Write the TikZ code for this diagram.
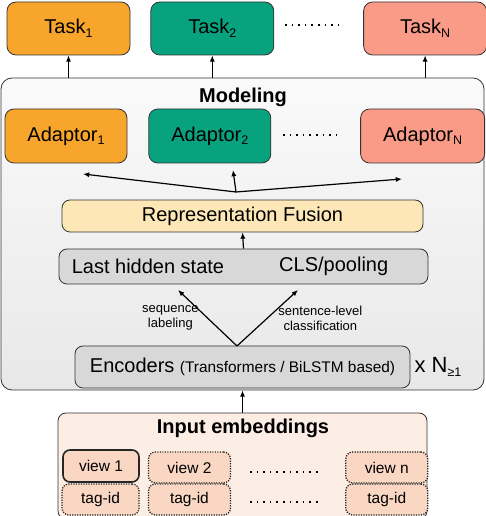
\documentclass[tikz,border=0pt]{standalone}
\usepackage{fontspec}
\setmainfont{Liberation Sans}
\usetikzlibrary{positioning,arrows.meta,shapes}
\definecolor{taskorange}{HTML}{F8A62B}
\definecolor{taskgreen}{HTML}{08A27F}
\definecolor{tasksalmon}{HTML}{F99B87}
\definecolor{fusionfill}{HTML}{FDE7B7}
\definecolor{hiddengray}{HTML}{D8D8D8}
\definecolor{inputfill}{HTML}{FDEEE5}
\definecolor{viewfill}{HTML}{F9D7C3}
\newcommand{\bigtxt}{\fontsize{20}{22}\selectfont}
\newcommand{\lowidx}[1]{\raisebox{-0.35ex}{\fontsize{12.5}{13}\selectfont #1}}

\begin{document}
\begin{tikzpicture}[
    x=1pt, y=1pt,
    >={Latex[black, length=2.2mm, width=1.8mm]},
    boxline/.style={draw=black!80, line width=0.8pt, inner sep=0pt},
    taskbox/.style={
        boxline, rectangle, rounded corners=9pt, minimum width=123pt, minimum height=53pt, font=\bigtxt
      },
    adaptorbox/.style={taskbox, minimum width=122pt, minimum height=54pt},
    layerbox/.style={boxline, rectangle, rounded corners=8pt, font=\bigtxt},
    viewbox/.style={
        rectangle, rounded corners=7pt, fill=viewfill, draw=black!85, line width=1.3pt,
        dash pattern=on 1.2pt off 1.3pt, minimum width=82pt, minimum height=31pt, inner sep=0pt,
        font=\fontsize{15.5}{16}\selectfont
      },
    dotline/.style={line width=1.6pt, dash pattern=on 1.6pt off 5pt},
    flow/.style={->, line width=1.2pt},
  ]
  \useasboundingbox (0,0) rectangle (486,516);

  % tasks
  \node[taskbox, fill=taskorange](Task1) at (68.5,487.5) {Task\lowidx{1}};
  \node[taskbox, fill=taskgreen, right=20pt of Task1](Task2) {Task\lowidx{2}};
  \node[taskbox, fill=tasksalmon, right=89pt of Task2](TaskN) {Task\lowidx{N}};
  \draw[dotline] (285,491) -- (340,491);

  % modeling block
  \node[layerbox, rounded corners=11pt, top color=black!2, bottom color=black!9,
    minimum width=483pt, minimum height=312pt](modelbox) at (242.5,282) {};
  \node[font=\fontsize{20}{22}\selectfont\bfseries](modeltitle) at (243,419) {Modeling};

  \node[adaptorbox, fill=taskorange](Adaptor1) at (66,380) {Adaptor\lowidx{1}};
  \node[adaptorbox, fill=taskgreen, right=21pt of Adaptor1](Adaptor2) {Adaptor\lowidx{2}};
  \node[adaptorbox, fill=tasksalmon, minimum width=124pt, right=89pt of Adaptor2](AdaptorN) {Adaptor\lowidx{N}};
  \draw[dotline] (283,381) -- (338,381);

  \node[layerbox, fill=fusionfill, minimum width=361pt, minimum height=32pt](fusion) at (242.5,300) {Representation Fusion};
  \node[layerbox, fill=hiddengray, minimum width=369pt, minimum height=35pt](hidden) at (243.5,249.5) {};
  \node[font=\bigtxt, inner sep=0pt, right=13pt of hidden.west](lasthidden) {Last hidden state};
  \node[font=\bigtxt, inner sep=0pt, left=40pt of hidden.east](clspool) {CLS/pooling};

  \node[layerbox, fill=hiddengray, minimum width=335pt, minimum height=42pt](encoder) at (242.5,149)
    {Encoders {\fontsize{15.4}{17}\selectfont(Transformers / BiLSTM based)}};
  \node[font=\fontsize{22}{24}\selectfont, inner sep=0pt, right=4pt of encoder](repeat) {x N\lowidx{≥1}};

  \coordinate (hub) at (236,324);
  \coordinate (ad1tip) at (83,342);
  \coordinate (ad2tip) at (233,346);
  \coordinate (adNtip) at (402,337);
  \path[flow]
    (hub) edge (ad1tip)
    (hub) edge (ad2tip)
    (hub) edge (adNtip)
    (hidden.north) edge (fusion.south)
  ;

  \coordinate (enchub) at (237,170);
  \coordinate (seqtip) at (178,226);
  \coordinate (clstip) at (298,226);
  \path[flow]
    (enchub) edge node[midway, left=5pt, align=center, black, font=\fontsize{13}{15}\selectfont]{sequence\\labeling} (seqtip)
    (enchub) edge node[midway, right=7pt, align=center, black, font=\fontsize{13}{15}\selectfont]{sentence-level\\classification} (clstip)
  ;

  % input block
  \node[layerbox, fill=inputfill, minimum width=369pt, minimum height=106pt](inputbox) at (242.5,50) {};
  \node[font=\fontsize{20}{22}\selectfont\bfseries](inputtitle) at (243,88) {Input embeddings};
  \node[viewbox, solid, line width=1.6pt, minimum width=76pt, minimum height=32pt](view1) at (101,50) {view 1};
  \node[viewbox, right=8pt of view1.east, anchor=west, yshift=-1.5pt](view2) {view 2};
  \node[viewbox, right=114pt of view2](viewN) {view n};
  \node[viewbox, minimum width=77pt](tag1) at (100.5,16.5) {tag-id};
  \node[viewbox](tag2) at (view2 |- tag1) {tag-id};
  \node[viewbox](tagN) at (viewN |- tag1) {tag-id};
  \draw[dotline] (250,44) -- (322,44);
  \draw[dotline] (250,14) -- (322,14);

  \draw[flow] (Task1.south |- modelbox.north) -- (Task1.south);
  \draw[flow] (Task2.south |- modelbox.north) -- (Task2.south);
  \draw[flow] (TaskN.south |- modelbox.north) -- (TaskN.south);
  \draw[flow] (inputbox.north) -- (inputbox.north |- modelbox.south);
\end{tikzpicture}
\end{document}
